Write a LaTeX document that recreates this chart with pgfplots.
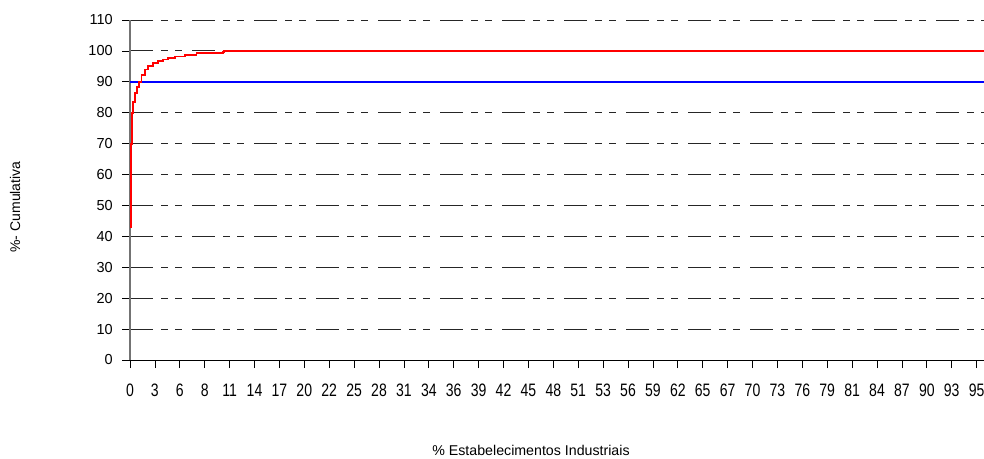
\documentclass[border=0pt]{standalone}
\usepackage{pgfplots}
\pgfplotsset{compat=1.18}
\usepackage{graphicx}
\usepackage{fontspec}
\setmainfont{Liberation Sans}
\newcommand\xl[1]{\scalebox{0.78}[1]{#1}}
\begin{document}
\fontsize{12.5}{14}\selectfont
\begin{tikzpicture}[x=1pt,y=1pt]
\useasboundingbox (-130,-98) rectangle (854,360);
\begin{axis}[
  at={(0,0)}, anchor=south west,
  scale only axis, width=854pt, height=340pt,
  xmin=0, xmax=96.27, ymin=0, ymax=110,
  axis lines=left,
  axis line style={-},
  x axis line style={black, line width=1pt},
  y axis line style={black!55, line width=1.4pt},
  tick align=outside,
  major tick length=8pt,
  tick style={black, line width=0.8pt},
  ytick={0,10,...,110},
  xtick={0,2.807,5.614,8.421,11.228,14.035,16.842,19.649,22.456,25.263,28.07,30.877,33.684,36.491,39.298,42.105,44.912,47.719,50.526,53.333,56.14,58.947,61.754,64.561,67.368,70.175,72.982,75.789,78.596,81.403,84.21,87.017,89.824,92.631,95.438},
  xticklabels={\xl{0},\xl{3},\xl{6},\xl{8},\xl{11},\xl{14},\xl{17},\xl{20},\xl{22},\xl{25},\xl{28},\xl{31},\xl{34},\xl{36},\xl{39},\xl{42},\xl{45},\xl{48},\xl{51},\xl{53},\xl{56},\xl{59},\xl{62},\xl{65},\xl{67},\xl{70},\xl{73},\xl{76},\xl{79},\xl{81},\xl{84},\xl{87},\xl{90},\xl{93},\xl{95}},
  /pgf/number format/assume math mode=true,
  yticklabel style={font=\fontsize{14.5}{16}\selectfont, xshift=-5pt},
  xticklabel style={font=\fontsize{18}{20}\selectfont, anchor=base, yshift=-28pt},
  ymajorgrids,
  major grid style={black!85, line width=0.9pt, dash pattern=on 23pt off 8pt on 7pt off 7pt on 7pt off 10pt},
  clip=false,
]
\addplot[blue, line width=1.8pt] coordinates {(0,90) (96.27,90)};
\addplot[red, line width=1.8pt, const plot mark left] coordinates {
(0,43) (0.1,70) (0.2,80) (0.35,83.6) (0.55,86.5) (0.75,88.3) (1.0,90) (1.3,92.3)
(1.7,94.0) (2.06,95.2) (2.6,96.1) (3.2,96.7) (3.75,97.2) (4.3,97.7) (5.1,98.2)
(6.2,98.7) (7.5,99.3) (10.5,99.7) (10.6,100) (96.27,100)};
\end{axis}
\node[rotate=90] at (-115,153) {\fontsize{14}{16}\selectfont \%- Cumulativa};
\node[anchor=base] at (401,-95) {\fontsize{14.2}{16}\selectfont \% Estabelecimentos Industriais};
\end{tikzpicture}
\end{document}
